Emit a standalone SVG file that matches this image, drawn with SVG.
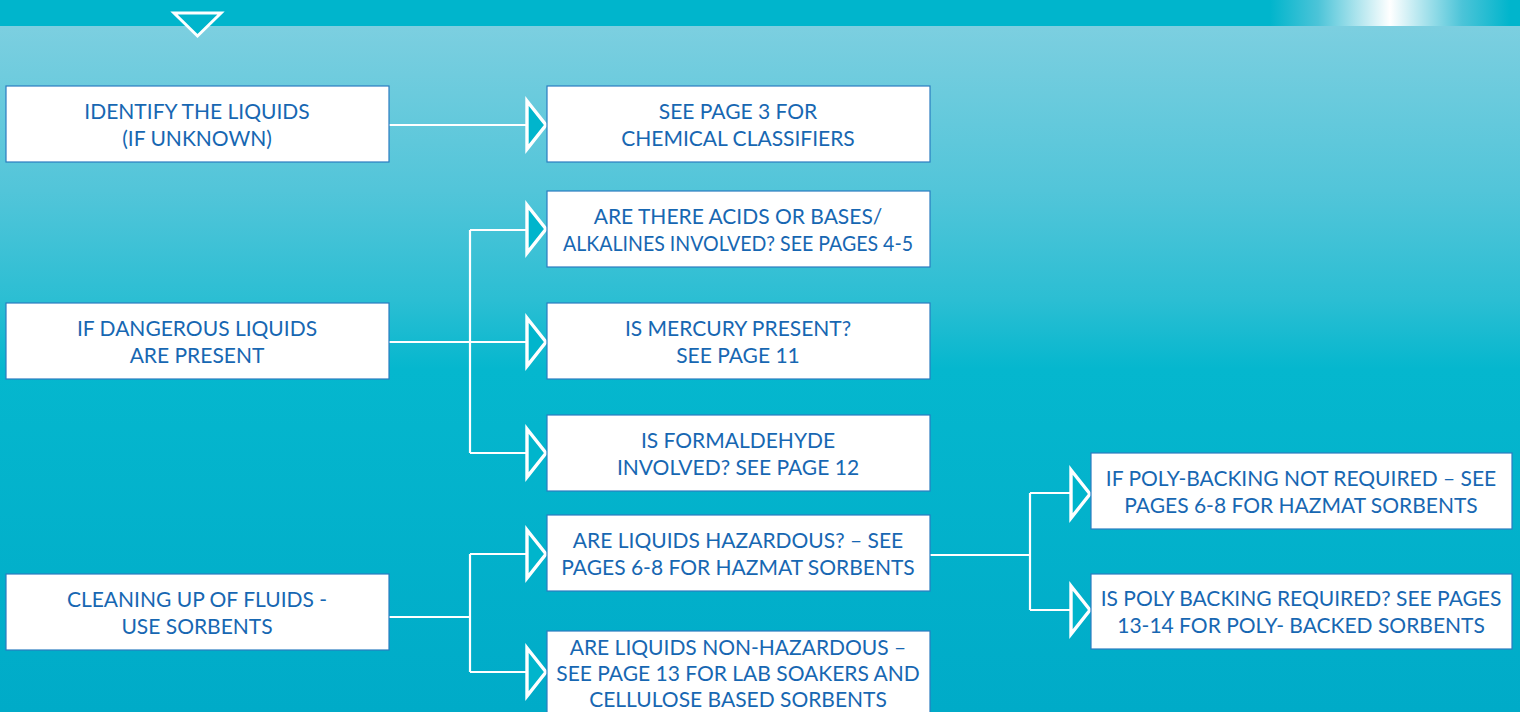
<svg xmlns="http://www.w3.org/2000/svg" xmlns:xlink="http://www.w3.org/1999/xlink" width="1520" height="712" viewBox="0 0 1520 712">
<style>
.box{fill:#ffffff;stroke:#2a7cc0;stroke-width:1.2}
.t{font-family:Lato,"Liberation Sans",sans-serif;font-size:21px;fill:#1767b2;text-anchor:middle}
.ln{fill:none;stroke:#ffffff;stroke-width:2.2}
.ah{fill:#00b5cc;stroke:#ffffff;stroke-width:3.4;stroke-linejoin:miter}
</style>
<defs>
<linearGradient id="bg" x1="0" y1="26" x2="0" y2="712" gradientUnits="userSpaceOnUse">
<stop offset="0" stop-color="#7ccfe0"/>
<stop offset="0.24" stop-color="#52c5d9"/>
<stop offset="0.4" stop-color="#2bbed3"/>
<stop offset="0.5" stop-color="#05b7ce"/>
<stop offset="1" stop-color="#00abc8"/>
</linearGradient>
<linearGradient id="shine" x1="1270" y1="0" x2="1510" y2="0" gradientUnits="userSpaceOnUse">
<stop offset="0" stop-color="#00b5cc"/>
<stop offset="0.2" stop-color="#4cc4d8"/>
<stop offset="0.5" stop-color="#ffffff"/>
<stop offset="0.8" stop-color="#4cc4d8"/>
<stop offset="1" stop-color="#00b5cc"/>
</linearGradient>
<path id="ah" class="ah" d="M0,-24 L19,0 L0,24 Z"/>
</defs>
<rect x="0" y="26" width="1520" height="686" fill="url(#bg)"/>
<rect x="0" y="0" width="1520" height="26" fill="#00b5cc"/>
<rect x="1270" y="0" width="250" height="26" fill="url(#shine)"/>
<polygon points="174,13 221,13 197.5,36" fill="#00b5cc" stroke="#ffffff" stroke-width="3"/>

<g id="connectors">
<path class="ln" d="M389,125 H527"/>
<path class="ln" d="M389,342 H470 M470,230 V453 M470,230 H527 M470,342 H527 M470,453 H527"/>
<path class="ln" d="M389,617 H470 M470,554 V672 M470,554 H527 M470,672 H527"/>
<path class="ln" d="M930,555 H1030 M1030,493 V610 M1030,493 H1071 M1030,610 H1071"/>
<use xlink:href="#ah" x="527" y="125"/>
<use xlink:href="#ah" x="527" y="229"/>
<use xlink:href="#ah" x="527" y="342"/>
<use xlink:href="#ah" x="527" y="453"/>
<use xlink:href="#ah" x="527" y="554"/>
<use xlink:href="#ah" x="527" y="672"/>
<use xlink:href="#ah" x="1071" y="494"/>
<use xlink:href="#ah" x="1071" y="610"/>
</g>

<g id="n-identify">
<rect class="box" x="6" y="86" width="383" height="76"/>
<text class="t" x="197" y="119">IDENTIFY THE LIQUIDS</text>
<text class="t" x="197" y="146">(IF UNKNOWN)</text>
</g>
<g id="n-page3">
<rect class="box" x="547" y="86" width="383" height="76"/>
<text class="t" x="738" y="119">SEE PAGE 3 FOR</text>
<text class="t" x="738" y="146">CHEMICAL CLASSIFIERS</text>
</g>
<g id="n-acids">
<rect class="box" x="547" y="191" width="383" height="76"/>
<text class="t" x="738" y="224">ARE THERE ACIDS OR BASES/</text>
<text class="t" x="738" y="251" textLength="350" lengthAdjust="spacingAndGlyphs">ALKALINES INVOLVED? SEE PAGES 4-5</text>
</g>
<g id="n-dangerous">
<rect class="box" x="6" y="303" width="383" height="76"/>
<text class="t" x="197" y="336">IF DANGEROUS LIQUIDS</text>
<text class="t" x="197" y="363">ARE PRESENT</text>
</g>
<g id="n-mercury">
<rect class="box" x="547" y="303" width="383" height="76"/>
<text class="t" x="738" y="336">IS MERCURY PRESENT?</text>
<text class="t" x="738" y="363">SEE PAGE 11</text>
</g>
<g id="n-formaldehyde">
<rect class="box" x="547" y="415" width="383" height="76"/>
<text class="t" x="738" y="448">IS FORMALDEHYDE</text>
<text class="t" x="738" y="475">INVOLVED? SEE PAGE 12</text>
</g>
<g id="n-hazardous">
<rect class="box" x="547" y="515" width="383" height="76"/>
<text class="t" x="738" y="548">ARE LIQUIDS HAZARDOUS? – SEE</text>
<text class="t" x="738" y="575">PAGES 6-8 FOR HAZMAT SORBENTS</text>
</g>
<g id="n-nonhazardous">
<rect class="box" x="547" y="631" width="383" height="90"/>
<text class="t" x="738" y="655">ARE LIQUIDS NON-HAZARDOUS –</text>
<text class="t" x="738" y="681">SEE PAGE 13 FOR LAB SOAKERS AND</text>
<text class="t" x="738" y="707">CELLULOSE BASED SORBENTS</text>
</g>
<g id="n-cleaning">
<rect class="box" x="6" y="574" width="383" height="76"/>
<text class="t" x="197" y="607">CLEANING UP OF FLUIDS -</text>
<text class="t" x="197" y="634">USE SORBENTS</text>
</g>
<g id="n-nopoly">
<rect class="box" x="1091" y="453" width="421" height="76"/>
<text class="t" x="1301" y="486">IF POLY-BACKING NOT REQUIRED – SEE</text>
<text class="t" x="1301" y="513">PAGES 6-8 FOR HAZMAT SORBENTS</text>
</g>
<g id="n-poly">
<rect class="box" x="1091" y="574" width="421" height="75"/>
<text class="t" x="1301" y="606">IS POLY BACKING REQUIRED? SEE PAGES</text>
<text class="t" x="1301" y="633">13-14 FOR POLY- BACKED SORBENTS</text>
</g>
</svg>
